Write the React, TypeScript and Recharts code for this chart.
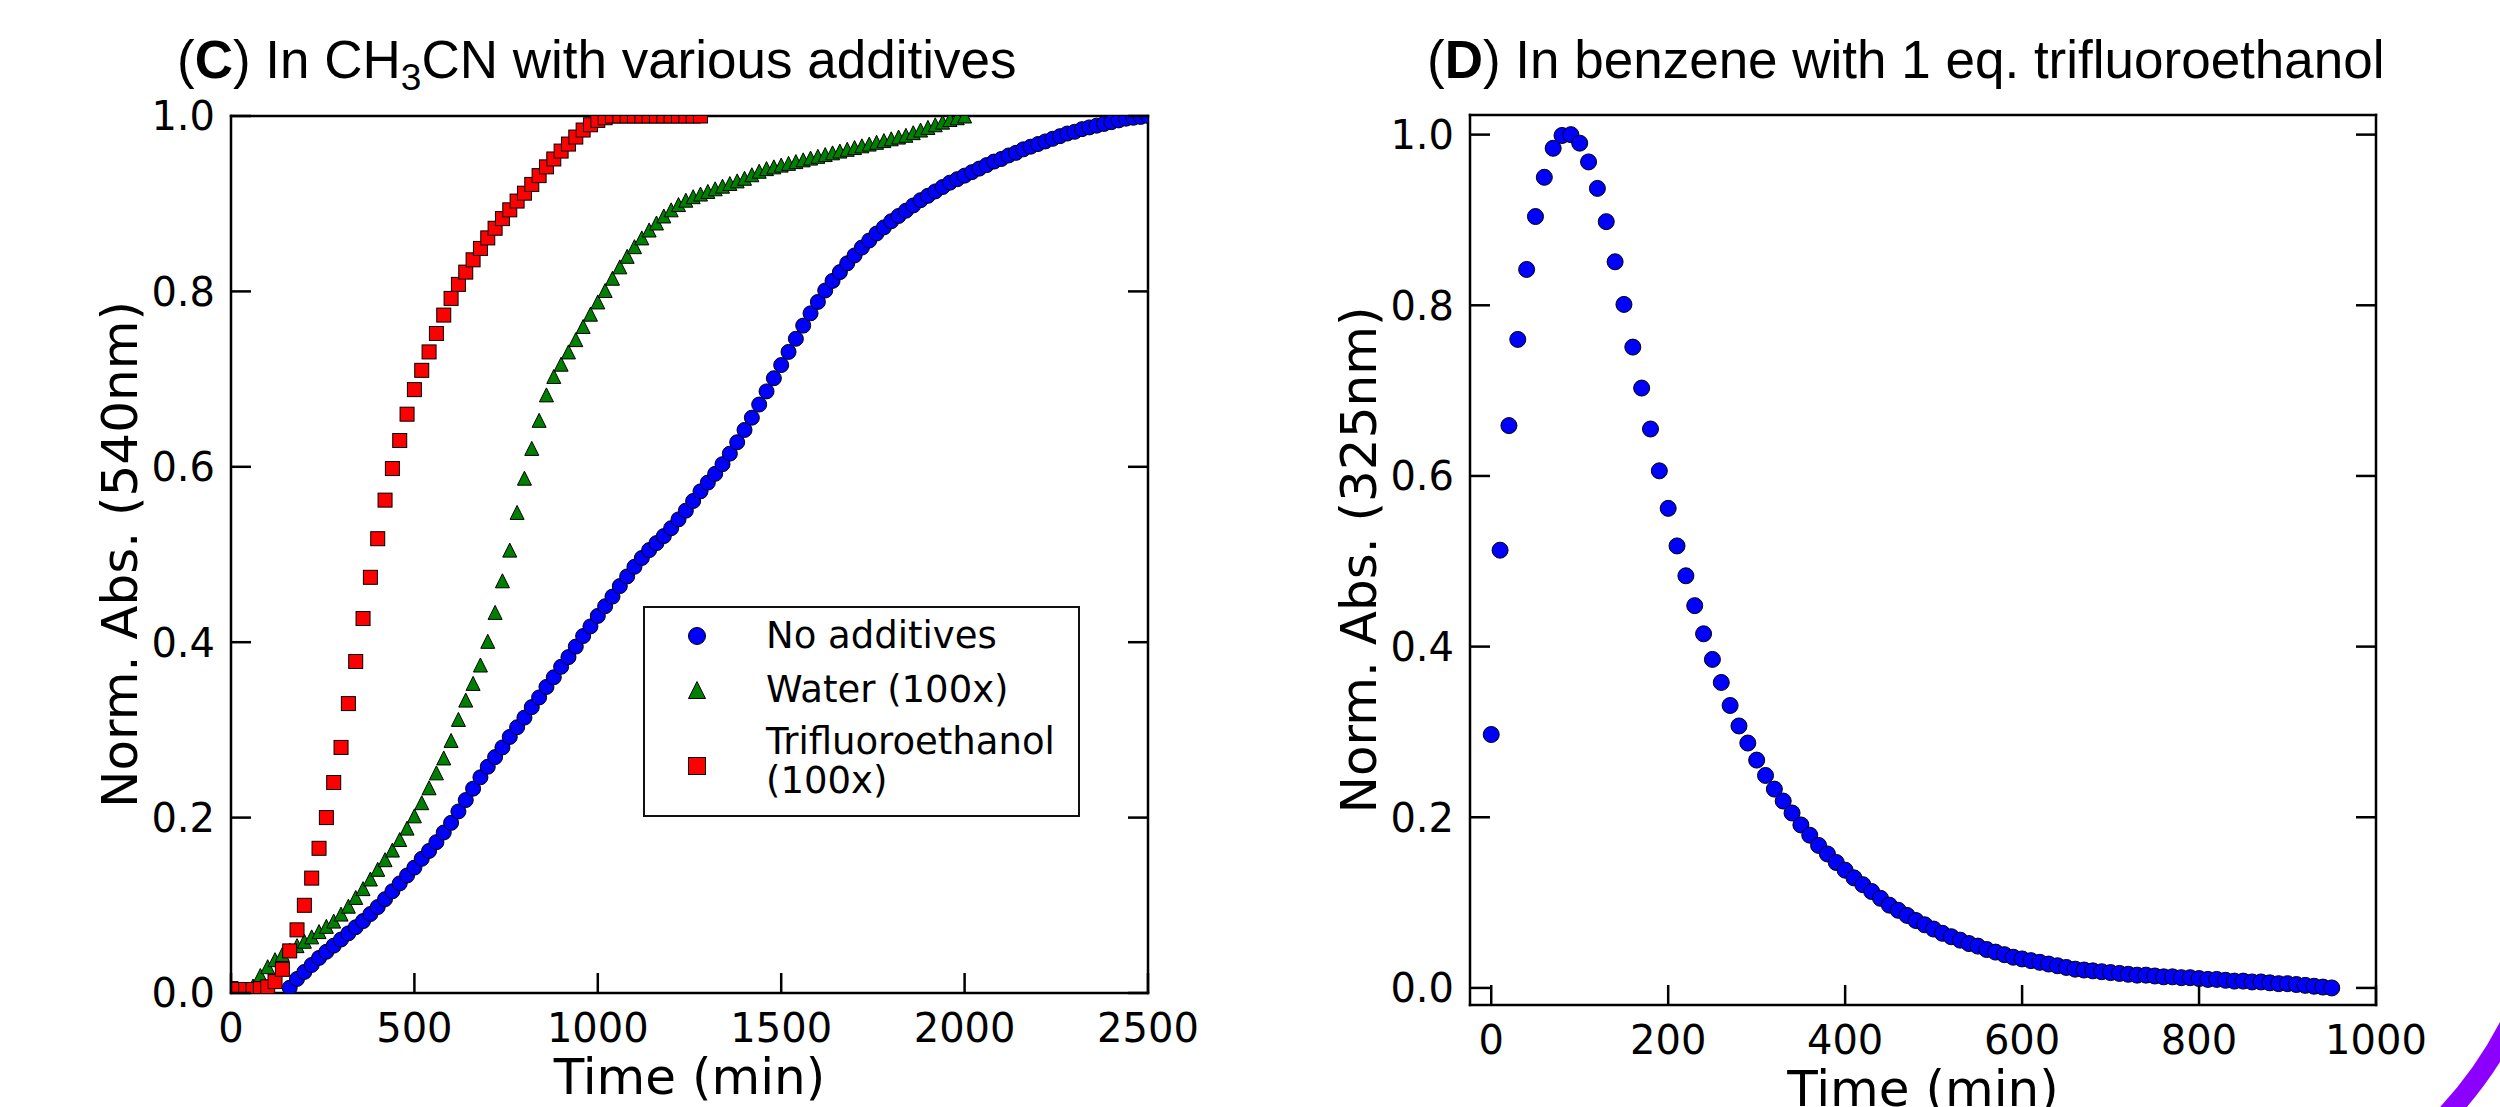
import React from 'react';
import { ScatterChart, Scatter, XAxis, YAxis, Legend } from 'recharts';

// panel C: normalised absorbance at 540 nm, one reading every 20 min
const noAddTimes = [160, 180, 200, 220, 240, 260, 280, 300, 320, 340, 360, 380, 400, 420, 440, 460, 480, 500, 520, 540, 560, 580, 600, 620, 640, 660, 680, 700, 720, 740, 760, 780, 800, 820, 840, 860, 880, 900, 920, 940, 960, 980, 1000, 1020, 1040, 1060, 1080, 1100, 1120, 1140, 1160, 1180, 1200, 1220, 1240, 1260, 1280, 1300, 1320, 1340, 1360, 1380, 1400, 1420, 1440, 1460, 1480, 1500, 1520, 1540, 1560, 1580, 1600, 1620, 1640, 1660, 1680, 1700, 1720, 1740, 1760, 1780, 1800, 1820, 1840, 1860, 1880, 1900, 1920, 1940, 1960, 1980, 2000, 2020, 2040, 2060, 2080, 2100, 2120, 2140, 2160, 2180, 2200, 2220, 2240, 2260, 2280, 2300, 2320, 2340, 2360, 2380, 2400, 2420, 2440, 2460, 2480, 2500];
const noAddAbs = [0.006, 0.016, 0.024, 0.032, 0.04, 0.047, 0.054, 0.061, 0.068, 0.075, 0.082, 0.09, 0.098, 0.107, 0.116, 0.125, 0.134, 0.143, 0.153, 0.162, 0.172, 0.183, 0.194, 0.207, 0.22, 0.233, 0.246, 0.258, 0.269, 0.28, 0.292, 0.303, 0.314, 0.326, 0.337, 0.349, 0.36, 0.372, 0.383, 0.395, 0.407, 0.418, 0.43, 0.441, 0.452, 0.464, 0.475, 0.486, 0.496, 0.505, 0.513, 0.521, 0.53, 0.54, 0.55, 0.561, 0.572, 0.582, 0.592, 0.603, 0.615, 0.628, 0.642, 0.656, 0.671, 0.686, 0.701, 0.716, 0.731, 0.746, 0.761, 0.775, 0.788, 0.801, 0.812, 0.822, 0.832, 0.841, 0.85, 0.858, 0.866, 0.873, 0.88, 0.886, 0.892, 0.898, 0.904, 0.909, 0.914, 0.919, 0.924, 0.928, 0.932, 0.936, 0.94, 0.944, 0.948, 0.951, 0.955, 0.958, 0.962, 0.965, 0.968, 0.971, 0.974, 0.977, 0.98, 0.982, 0.985, 0.987, 0.989, 0.991, 0.993, 0.995, 0.997, 0.998, 0.999, 1.0];

const waterTimes = [60, 80, 100, 120, 140, 160, 180, 200, 220, 240, 260, 280, 300, 320, 340, 360, 380, 400, 420, 440, 460, 480, 500, 520, 540, 560, 580, 600, 620, 640, 660, 680, 700, 720, 740, 760, 780, 800, 820, 840, 860, 880, 900, 920, 940, 960, 980, 1000, 1020, 1040, 1060, 1080, 1100, 1120, 1140, 1160, 1180, 1200, 1220, 1240, 1260, 1280, 1300, 1320, 1340, 1360, 1380, 1400, 1420, 1440, 1460, 1480, 1500, 1520, 1540, 1560, 1580, 1600, 1620, 1640, 1660, 1680, 1700, 1720, 1740, 1760, 1780, 1800, 1820, 1840, 1860, 1880, 1900, 1920, 1940, 1960, 1980, 2000];
const waterAbs = [0.008, 0.02, 0.03, 0.038, 0.044, 0.049, 0.054, 0.059, 0.064, 0.07, 0.076, 0.082, 0.09, 0.099, 0.109, 0.119, 0.13, 0.141, 0.152, 0.163, 0.175, 0.188, 0.202, 0.217, 0.234, 0.251, 0.268, 0.288, 0.312, 0.334, 0.353, 0.374, 0.401, 0.434, 0.47, 0.505, 0.548, 0.587, 0.621, 0.653, 0.682, 0.703, 0.717, 0.731, 0.745, 0.76, 0.774, 0.788, 0.801, 0.815, 0.828, 0.84, 0.851, 0.861, 0.87, 0.878, 0.886, 0.893, 0.899, 0.904, 0.908, 0.911, 0.914, 0.917, 0.92, 0.923, 0.926, 0.929, 0.933, 0.937, 0.94, 0.942, 0.944, 0.946, 0.948, 0.95, 0.952, 0.954, 0.956, 0.958, 0.96, 0.962, 0.964, 0.966, 0.968, 0.97, 0.972, 0.974, 0.976, 0.978, 0.981, 0.984, 0.987, 0.99, 0.993, 0.996, 0.998, 1.0];

const tfeTimes = [0, 20, 40, 60, 80, 100, 120, 140, 160, 180, 200, 220, 240, 260, 280, 300, 320, 340, 360, 380, 400, 420, 440, 460, 480, 500, 520, 540, 560, 580, 600, 620, 640, 660, 680, 700, 720, 740, 760, 780, 800, 820, 840, 860, 880, 900, 920, 940, 960, 980, 1000, 1020, 1040, 1060, 1080, 1100, 1120, 1140, 1160, 1180, 1200, 1220, 1240, 1260, 1280];
const tfeAbs = [0.005, 0.004, 0.004, 0.004, 0.005, 0.007, 0.013, 0.027, 0.048, 0.072, 0.1, 0.131, 0.165, 0.2, 0.24, 0.28, 0.33, 0.378, 0.427, 0.474, 0.518, 0.562, 0.598, 0.63, 0.66, 0.688, 0.71, 0.731, 0.752, 0.773, 0.792, 0.808, 0.822, 0.836, 0.849, 0.861, 0.872, 0.883, 0.893, 0.903, 0.912, 0.922, 0.932, 0.942, 0.951, 0.96, 0.968, 0.976, 0.984, 0.99, 0.995, 0.998, 1.0, 1.0, 1.0, 1.0, 1.0, 1.0, 1.0, 1.0, 1.0, 1.0, 1.0, 1.0, 1.0];

// panel D: benzene + 1 eq. TFE at 325 nm, every 10 min
const benzTimes = [0, 10, 20, 30, 40, 50, 60, 70, 80, 90, 100, 110, 120, 130, 140, 150, 160, 170, 180, 190, 200, 210, 220, 230, 240, 250, 260, 270, 280, 290, 300, 310, 320, 330, 340, 350, 360, 370, 380, 390, 400, 410, 420, 430, 440, 450, 460, 470, 480, 490, 500, 510, 520, 530, 540, 550, 560, 570, 580, 590, 600, 610, 620, 630, 640, 650, 660, 670, 680, 690, 700, 710, 720, 730, 740, 750, 760, 770, 780, 790, 800, 810, 820, 830, 840, 850, 860, 870, 880, 890, 900, 910, 920, 930, 940, 950];
const benzAbs = [0.297, 0.513, 0.659, 0.76, 0.842, 0.904, 0.95, 0.984, 0.999, 1.0, 0.99, 0.968, 0.937, 0.898, 0.851, 0.801, 0.751, 0.703, 0.655, 0.606, 0.562, 0.518, 0.483, 0.448, 0.415, 0.385, 0.358, 0.331, 0.307, 0.287, 0.267, 0.249, 0.233, 0.219, 0.205, 0.191, 0.179, 0.167, 0.157, 0.147, 0.138, 0.129, 0.121, 0.113, 0.105, 0.097, 0.091, 0.085, 0.079, 0.074, 0.069, 0.064, 0.06, 0.056, 0.052, 0.049, 0.045, 0.042, 0.039, 0.036, 0.034, 0.032, 0.03, 0.028, 0.026, 0.024, 0.022, 0.021, 0.02, 0.019, 0.018, 0.017, 0.016, 0.015, 0.015, 0.014, 0.013, 0.013, 0.012, 0.012, 0.011, 0.01, 0.01, 0.009, 0.008, 0.008, 0.007, 0.007, 0.006, 0.005, 0.005, 0.004, 0.003, 0.002, 0.001, 0.0];

const ticksCX = [0, 500, 1000, 1500, 2000, 2500];
const ticksDX = [0, 200, 400, 600, 800, 1000];
const ticksY = [0, 0.2, 0.4, 0.6, 0.8, 1.0];

const toPoints = (ts: number[], vs: number[]) => ts.map((t, i) => ({ t, v: vs[i] }));

const seriesC = [
  { name: 'No additives', lines: ['No additives'], color: '#0000ff', kind: 'circle', size: 15, data: toPoints(noAddTimes, noAddAbs) },
  { name: 'Water (100x)', lines: ['Water (100x)'], color: '#008000', kind: 'triangle', size: 14, data: toPoints(waterTimes, waterAbs) },
  { name: 'Trifluoroethanol (100x)', lines: ['Trifluoroethanol', '(100x)'], color: '#ff0000', kind: 'square', size: 14, data: toPoints(tfeTimes, tfeAbs) },
];
const benzData = toPoints(benzTimes, benzAbs);

const TICK_FONT = 'DejaVu Sans';
const TICK_LEN = 20;
const LABEL_SIZE = 50;
const frame = { stroke: '#000', strokeWidth: 2.5, strokeLinecap: 'square' as const };

function Marker({ kind, cx, cy, size, fill }: any) {
  const h = size / 2;
  if (kind === 'square') {
    return <rect x={cx - h} y={cy - h} width={size} height={size} fill={fill} stroke="#000" strokeWidth={1} />;
  }
  if (kind === 'triangle') {
    return <path d={`M${cx},${cy - h}L${cx - h},${cy + h}L${cx + h},${cy + h}Z`} fill={fill} stroke="#000" strokeWidth={1} />;
  }
  return <circle cx={cx} cy={cy} r={h} fill={fill} stroke="#000" strokeWidth={1} />;
}

// ticks point into the plot, labels sit outside
const BottomTick = (p: any) => (
  <g>
    <line x1={p.x} y1={p.y} x2={p.x} y2={p.y - TICK_LEN} stroke="#000" strokeWidth={2.5} />
    <text x={p.x} y={p.y + 49} textAnchor="middle" fontFamily={TICK_FONT} fontSize={40} fill="#000">{p.payload.value}</text>
  </g>
);
const TopTick = (p: any) => <line x1={p.x} y1={p.y} x2={p.x} y2={p.y + TICK_LEN} stroke="#000" strokeWidth={2.5} />;
const LeftTick = (p: any) => (
  <g>
    <line x1={p.x} y1={p.y} x2={p.x + TICK_LEN} y2={p.y} stroke="#000" strokeWidth={2.5} />
    <text x={p.x - 16} y={p.y} dy="0.36em" textAnchor="end" fontFamily={TICK_FONT} fontSize={40} fill="#000">{p.payload.value.toFixed(1)}</text>
  </g>
);
const RightTick = (p: any) => <line x1={p.x} y1={p.y} x2={p.x - TICK_LEN} y2={p.y} stroke="#000" strokeWidth={2.5} />;

const xTitle = (text: string, below: number) => (p: any) => {
  const vb = p.viewBox;
  return (
    <text x={vb.x + vb.width / 2} y={vb.y + below} textAnchor="middle" fontFamily={TICK_FONT} fontSize={LABEL_SIZE} fill="#000">{text}</text>
  );
};
const yTitle = (text: string, gap: number) => (p: any) => {
  const vb = p.viewBox;
  const x = vb.x + vb.width - gap;
  const y = vb.y + vb.height / 2;
  return (
    <text x={x} y={y} transform={`rotate(-90, ${x}, ${y})`} textAnchor="middle" fontFamily={TICK_FONT} fontSize={LABEL_SIZE} fill="#000">{text}</text>
  );
};

const legendMarkerY = [30, 84, 160];
const legendTextY = [[42], [96], [148, 187]];

const LegendBox = () => (
  <svg width={437} height={211} style={{ display: 'block' }}>
    <rect x={1} y={1} width={435} height={209} fill="#fff" stroke="#111" strokeWidth={2} />
    {seriesC.map((s, i) => (
      <g key={s.name}>
        <Marker kind={s.kind} cx={54} cy={legendMarkerY[i]} size={17} fill={s.color} />
        {s.lines.map((ln, j) => (
          <text key={ln} x={123} y={legendTextY[i][j]} fontFamily={TICK_FONT} fontSize={37} fill="#000">{ln}</text>
        ))}
      </g>
    ))}
  </svg>
);

function PanelC() {
  return (
    <ScatterChart width={1250} height={1107} margin={{ top: 115, right: 101, bottom: 54, left: 131 }}>
      <XAxis xAxisId="b" dataKey="t" type="number" domain={[0, 2500]} allowDataOverflow ticks={ticksCX} interval={0}
        height={60} tickSize={0} tickMargin={0} tickLine={false} axisLine={frame} tick={BottomTick}
        label={{ content: xTitle('Time (min)', 101) }} />
      <XAxis xAxisId="t" orientation="top" type="number" domain={[0, 2500]} allowDataOverflow ticks={ticksCX} interval={0}
        height={1} tickSize={0} tickMargin={0} tickLine={false} axisLine={frame} tick={TopTick} />
      <YAxis yAxisId="l" dataKey="v" type="number" domain={[0, 1]} allowDataOverflow ticks={ticksY} interval={0}
        width={100} tickSize={0} tickMargin={0} tickLine={false} axisLine={frame} tick={LeftTick}
        label={{ content: yTitle('Norm. Abs. (540nm)', 94) }} />
      <YAxis yAxisId="r" orientation="right" type="number" domain={[0, 1]} allowDataOverflow ticks={ticksY} interval={0}
        width={1} tickSize={0} tickMargin={0} tickLine={false} axisLine={frame} tick={RightTick} />
      {seriesC.map((s) => (
        <Scatter key={s.name} name={s.name} data={s.data} xAxisId="b" yAxisId="l" fill={s.color} isAnimationActive={false}
          shape={(p: any) => <Marker kind={s.kind} cx={p.cx} cy={p.cy} size={s.size} fill={s.color} />} />
      ))}
      <Legend layout="vertical" align="center" verticalAlign="middle" content={<LegendBox />}
        wrapperStyle={{ left: 643, top: 606, width: 437, height: 211, margin: 0, padding: 0 }} />
    </ScatterChart>
  );
}

function PanelD() {
  return (
    <ScatterChart width={1250} height={1107} margin={{ top: 114, right: 123, bottom: 42, left: 120 }}>
      <XAxis xAxisId="b" dataKey="t" type="number" domain={[-24, 1000]} allowDataOverflow ticks={ticksDX} interval={0}
        height={60} tickSize={0} tickMargin={0} tickLine={false} axisLine={frame} tick={BottomTick}
        label={{ content: xTitle('Time (min)', 101) }} />
      <XAxis xAxisId="t" orientation="top" type="number" domain={[-24, 1000]} allowDataOverflow ticks={ticksDX} interval={0}
        height={1} tickSize={0} tickMargin={0} tickLine={false} axisLine={frame} tick={TopTick} />
      <YAxis yAxisId="l" dataKey="v" type="number" domain={[-0.02, 1.023]} allowDataOverflow ticks={ticksY} interval={0}
        width={100} tickSize={0} tickMargin={0} tickLine={false} axisLine={frame} tick={LeftTick}
        label={{ content: yTitle('Norm. Abs. (325nm)', 94) }} />
      <YAxis yAxisId="r" orientation="right" type="number" domain={[-0.02, 1.023]} allowDataOverflow ticks={ticksY} interval={0}
        width={1} tickSize={0} tickMargin={0} tickLine={false} axisLine={frame} tick={RightTick} />
      <Scatter name="benzene" data={benzData} xAxisId="b" yAxisId="l" fill="#0000ff" isAnimationActive={false}
        shape={(p: any) => <Marker kind="circle" cx={p.cx} cy={p.cy} size={16} fill="#0000ff" />} />
    </ScatterChart>
  );
}

export default function App() {
  return (
    <div style={{ position: 'absolute', left: 0, top: 0, width: 2500, height: 1107, background: '#fff', overflow: 'hidden' }}>
      <div style={{ position: 'absolute', left: 0, top: 0 }}><PanelC /></div>
      <div style={{ position: 'absolute', left: 1250, top: 0 }}><PanelD /></div>
      <svg width={2500} height={1107} style={{ position: 'absolute', left: 0, top: 0, pointerEvents: 'none' }}>
        <text x={177} y={78} fontFamily="Liberation Sans" fontSize={53} fill="#000">
          (<tspan fontWeight="bold">C</tspan>) In CH<tspan dy={12} fontSize={37}>3</tspan><tspan dy={-12}>CN with various additives</tspan>
        </text>
        <text x={1427} y={78} fontFamily="Liberation Sans" fontSize={53} fill="#000">
          (<tspan fontWeight="bold">D</tspan>) In benzene with 1 eq. trifluoroethanol
        </text>
        <path d="M2520,1003.4 A400,400 0 0 1 2431.6,1130" fill="none" stroke="#8b00ff" strokeWidth={20} />
      </svg>
    </div>
  );
}
